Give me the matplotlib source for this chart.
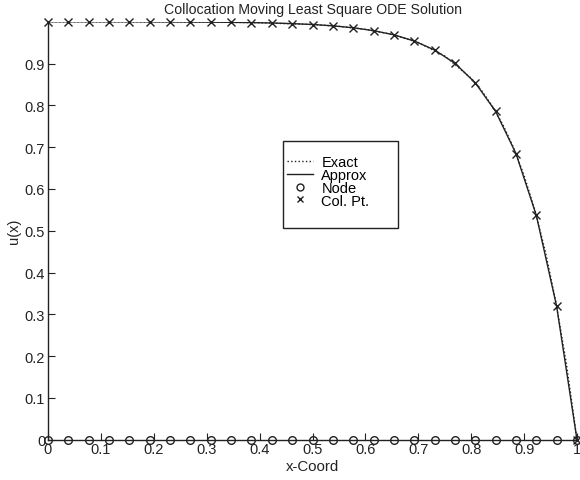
import matplotlib
matplotlib.use("Agg")
import matplotlib.pyplot as plt
from matplotlib.lines import Line2D
from matplotlib.patches import Rectangle

plt.rcParams['font.family'] = ['Liberation Sans', 'DejaVu Sans']

# Collocation points / nodes (x = i/26)
col_x = [0.0, 0.0385, 0.0769, 0.1154, 0.1538, 0.1923, 0.2308, 0.2692, 0.3077,
         0.3462, 0.3846, 0.4231, 0.4615, 0.5, 0.5385, 0.5769, 0.6154, 0.6538,
         0.6923, 0.7308, 0.7692, 0.8077, 0.8462, 0.8846, 0.9231, 0.9615, 1.0]
approx_u = [1.0, 0.9999, 0.9999, 0.9998, 0.9998, 0.9997, 0.9995, 0.9993, 0.9990,
            0.9985, 0.9979, 0.9969, 0.9954, 0.9933, 0.9901, 0.9855, 0.9786, 0.9686,
            0.9539, 0.9323, 0.9005, 0.8538, 0.7853, 0.6846, 0.5366, 0.3193, 0.0]
node_x = col_x
node_u = [0.0] * len(node_x)

# Exact solution samples
exact_x = [0.0, 0.1, 0.2, 0.3, 0.4, 0.5, 0.55, 0.6, 0.65, 0.7, 0.75, 0.8, 0.82,
           0.84, 0.86, 0.88, 0.9, 0.92, 0.94, 0.96, 0.98, 1.0]
exact_u = [1.0, 0.9999, 0.9997, 0.9991, 0.9975, 0.9933, 0.9889, 0.9817, 0.9698,
           0.9502, 0.9179, 0.8647, 0.8347, 0.7981, 0.7534, 0.6988, 0.6321, 0.5507,
           0.4512, 0.3297, 0.1813, 0.0]

x_ticks = [0, 0.1, 0.2, 0.3, 0.4, 0.5, 0.6, 0.7, 0.8, 0.9, 1]
x_ticklabels = ['0', '0.1', '0.2', '0.3', '0.4', '0.5', '0.6', '0.7', '0.8', '0.9', '1']
y_ticks = [0, 0.1, 0.2, 0.3, 0.4, 0.5, 0.6, 0.7, 0.8, 0.9]
y_ticklabels = ['0', '0.1', '0.2', '0.3', '0.4', '0.5', '0.6', '0.7', '0.8', '0.9']

ink = '#222222'
W, H = 580, 481

fig = plt.figure(figsize=(5.8, 4.81), dpi=100)
ax = fig.add_axes([48/W, 40.3/H, 529/W, 418/H])

ax.plot(exact_x, exact_u, linestyle=':', color=ink, linewidth=1.0)
ax.plot(col_x, approx_u, linestyle='-', color=ink, linewidth=1.0)
ax.plot(node_x, node_u, linestyle='none', marker='o', markersize=5.5,
        markerfacecolor='none', markeredgecolor=ink, markeredgewidth=1.0, clip_on=False)
ax.plot(col_x, approx_u, linestyle='none', marker='x', markersize=5.5,
        markeredgecolor=ink, markeredgewidth=1.0, clip_on=False)

ax.set_xlim(0, 1)
ax.set_ylim(0, max(approx_u))
ax.set_xticks(x_ticks)
ax.set_xticklabels(x_ticklabels)
ax.set_yticks(y_ticks)
ax.set_yticklabels(y_ticklabels)
ax.tick_params(direction='in', length=5, width=0.8, labelsize=10.5, colors=ink, pad=2)
for s in ['top', 'right']:
    ax.spines[s].set_visible(False)
for s in ['left', 'bottom']:
    ax.spines[s].set_color(ink)
    ax.spines[s].set_linewidth(1.0)

ax.set_title('Collocation Moving Least Square ODE Solution', fontsize=10.2, pad=6, color=ink)
ax.set_xlabel('x-Coord', fontsize=10.8, labelpad=2, color=ink)
ax.set_ylabel('u(x)', fontsize=10.5, labelpad=3, color=ink)

# Legend frame (figure pixel box)
bx0, by0, bx1, by1 = 283, 142, 398, 229
fig.patches.append(Rectangle((bx0/W, 1 - by1/H), (bx1-bx0)/W, (by1-by0)/H,
                             transform=fig.transFigure, facecolor='white',
                             edgecolor=ink, linewidth=1.0, zorder=5))

handles = [
    Line2D([], [], linestyle=':', color=ink, linewidth=1.0),
    Line2D([], [], linestyle='-', color=ink, linewidth=1.0),
    Line2D([], [], linestyle='none', marker='o', markersize=5, markerfacecolor='none',
           markeredgecolor=ink, markeredgewidth=1.0),
    Line2D([], [], linestyle='none', marker='x', markersize=5, markeredgecolor=ink,
           markeredgewidth=1.0),
]
leg = fig.legend(handles, ['Exact', 'Approx', 'Node', 'Col. Pt.'],
                 loc='upper left', bbox_to_anchor=(287/W, 1 - 156/H),
                 bbox_transform=fig.transFigure,
                 fontsize=10.5, frameon=False,
                 handlelength=1.75, handletextpad=0.6, labelspacing=-0.08,
                 borderpad=0.0, borderaxespad=0.0)
leg.set_zorder(6)

fig.savefig('out.png', dpi=100)
